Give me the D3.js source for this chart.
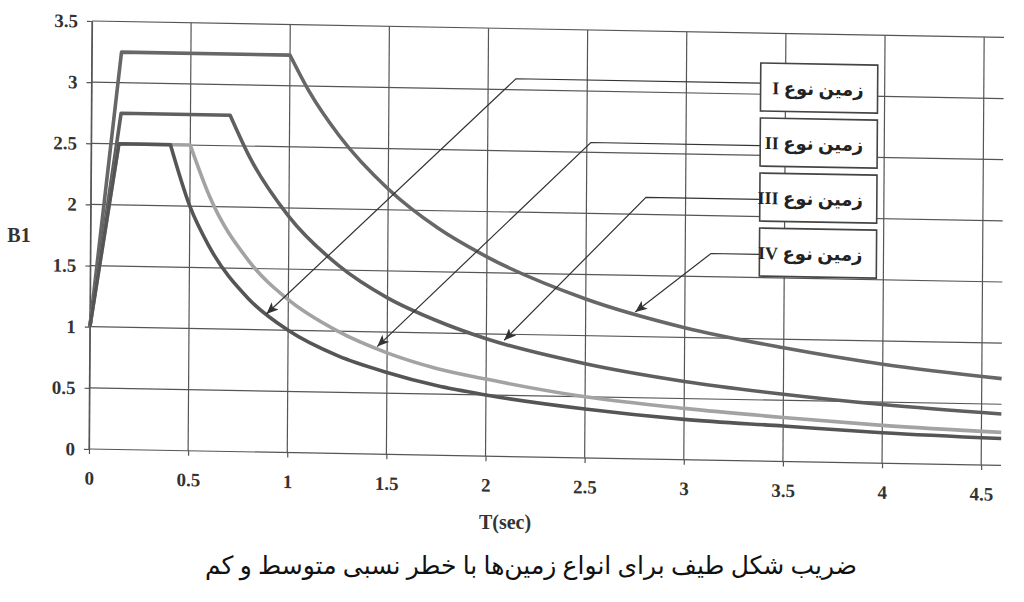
<!DOCTYPE html>
<html>
<head>
<meta charset="utf-8">
<script src="https://cdnjs.cloudflare.com/ajax/libs/d3/7.8.5/d3.min.js"></script>
<style>
  body { margin: 0; background: #fff; }
</style>
</head>
<body>
<div id="chart"></div>
<script>
// soil spectra (T in sec, B1)
const soilNames = ["زمین نوع I", "زمین نوع II", "زمین نوع III", "زمین نوع IV"]

const soil1T = [0, 0.14, 0.4, 0.5, 0.6, 0.8, 1.0, 1.25, 1.5, 1.75, 2, 2.5, 3, 3.5, 4, 4.6]
const soil1B = [1, 2.5, 2.5, 2.0, 1.67, 1.25, 1.0, 0.8, 0.67, 0.57, 0.5, 0.4, 0.33, 0.29, 0.25, 0.22]

const soil2T = [0, 0.14, 0.5, 0.6, 0.8, 1.0, 1.25, 1.5, 1.75, 2, 2.5, 3, 3.5, 4, 4.6]
const soil2B = [1, 2.5, 2.5, 2.08, 1.56, 1.25, 1.0, 0.83, 0.71, 0.63, 0.5, 0.42, 0.36, 0.31, 0.27]

const soil3T = [0, 0.15, 0.7, 0.8, 1.0, 1.25, 1.5, 1.75, 2, 2.5, 3, 3.5, 4, 4.6]
const soil3B = [1, 2.75, 2.75, 2.41, 1.93, 1.54, 1.28, 1.1, 0.96, 0.77, 0.64, 0.55, 0.48, 0.42]

const soil4T = [0, 0.15, 1.0, 1.1, 1.25, 1.5, 1.75, 2, 2.5, 3, 3.5, 4, 4.6]
const soil4B = [1, 3.25, 3.25, 2.95, 2.6, 2.17, 1.86, 1.63, 1.3, 1.08, 0.93, 0.81, 0.71]

// where each leader arrow points (tip) and where it bends (elbow)
const tipT = [0.89, 1.45, 2.09, 2.75]
const tipB = [1.13, 0.88, 0.95, 1.20]
const elbowT = [2.14, 2.52, 2.80, 3.13]
const elbowB = [3.09, 2.58, 2.14, 1.69]

const xTicks = [0, 0.5, 1, 1.5, 2, 2.5, 3, 3.5, 4, 4.5]
const yTicks = [0, 0.5, 1, 1.5, 2, 2.5, 3, 3.5]

const W = 1024, H = 602
const PW = 912, PH = 428

const svg = d3.select("#chart")
    .append("svg")
    .attr("width", W)
    .attr("height", H)

// the scanned figure is a little rotated/skewed, so the plot group is too
const g = svg.append("g")
    .attr("transform", `translate(89,449) matrix(1,0.018,-0.007,1,0,0) translate(0,${-PH})`)

const x = d3.scaleLinear().domain([0, 4.6]).range([0, PW])
const y = d3.scaleLinear().domain([0, 3.5]).range([PH, 0])

const gridColor = "#555"

// grid
g.append("g")
    .selectAll("line")
    .data(yTicks)
    .join("line")
    .attr("x1", 0)
    .attr("x2", PW)
    .attr("y1", d => y(d))
    .attr("y2", d => y(d))
    .attr("stroke", gridColor)
    .attr("stroke-width", 1.2)

g.append("g")
    .selectAll("line")
    .data(xTicks)
    .join("line")
    .attr("x1", d => x(d))
    .attr("x2", d => x(d))
    .attr("y1", y(0))
    .attr("y2", y(3.5))
    .attr("stroke", gridColor)
    .attr("stroke-width", 1.2)

const xAxis = d3.axisBottom(x).tickValues(xTicks).tickSize(5).tickSizeOuter(0).tickPadding(17).tickFormat(d => String(d))
const yAxis = d3.axisLeft(y).tickValues(yTicks).tickSize(5).tickSizeOuter(0).tickPadding(9).tickFormat(d => String(d))

const gx = g.append("g")
    .attr("transform", `translate(0, ${PH})`)
    .call(xAxis)
gx.select(".domain").remove()

const gy = g.append("g").call(yAxis)

g.selectAll(".tick line").attr("stroke", gridColor).attr("stroke-width", 1.2)
g.selectAll(".domain").attr("stroke", gridColor).attr("stroke-width", 1.2)
g.selectAll(".tick text")
    .attr("font-family", "Liberation Serif, Times New Roman, serif")
    .attr("font-weight", "bold")
    .attr("font-size", 19)
    .attr("fill", "#333")

// curves: straight rise and plateau, smooth decay after the plateau end
const straight = d3.line()
    .x(d => x(d[0]))
    .y(d => y(d[1]))

const smooth = d3.line()
    .x(d => x(d[0]))
    .y(d => y(d[1]))
    .curve(d3.curveMonotoneX)

const series = [
    {t: soil4T, b: soil4B, color: "#676767"},
    {t: soil3T, b: soil3B, color: "#5f5f5f"},
    {t: soil2T, b: soil2B, color: "#a3a3a3"},
    {t: soil1T, b: soil1B, color: "#555555"}
]

series.forEach(s => {
    const pts = s.t.map((t, i) => [t, s.b[i]])
    const knee = 2
    const d = straight(pts.slice(0, knee + 1)) + smooth(pts.slice(knee)).replace(/^M/, "L")
    g.append("path")
        .attr("d", d)
        .attr("fill", "none")
        .attr("stroke", s.color)
        .attr("stroke-width", 3.6)
        .attr("stroke-linejoin", "round")
})

// arrow marker
svg.append("defs")
    .append("marker")
    .attr("id", "arrow")
    .attr("markerUnits", "userSpaceOnUse")
    .attr("markerWidth", 14)
    .attr("markerHeight", 10)
    .attr("refX", 12)
    .attr("refY", 5)
    .attr("orient", "auto")
    .append("path")
    .attr("d", "M0,0 L12,5 L0,10 L3,5 Z")
    .attr("fill", "#333")

// legend boxes and leaders
const boxX = 669, boxW = 117, boxH = 48
const boxTop = i => 30 + i * 55

soilNames.forEach((name, i) => {
    g.append("path")
        .attr("d", `M${boxX},${y(elbowB[i])} L${x(elbowT[i])},${y(elbowB[i])} L${x(tipT[i])},${y(tipB[i])}`)
        .attr("fill", "none")
        .attr("stroke", "#333")
        .attr("stroke-width", 1.2)
        .attr("marker-end", "url(#arrow)")

    g.append("rect")
        .attr("x", boxX)
        .attr("y", boxTop(i))
        .attr("width", boxW)
        .attr("height", boxH)
        .attr("fill", "#fff")
        .attr("stroke", "#444")
        .attr("stroke-width", 1.6)

    g.append("text")
        .attr("x", boxX + boxW - 14)
        .attr("y", boxTop(i) + boxH / 2 + 7)
        .attr("direction", "rtl")
        .attr("text-anchor", "start")
        .attr("font-family", "Liberation Serif, DejaVu Sans, serif")
        .attr("font-weight", "bold")
        .attr("font-size", 18)
        .attr("fill", "#222")
        .text(name)
})

// axis titles and caption
svg.append("text")
    .attr("x", 19)
    .attr("y", 242)
    .attr("text-anchor", "middle")
    .attr("font-family", "Liberation Serif, Times New Roman, serif")
    .attr("font-weight", "bold")
    .attr("font-size", 20)
    .attr("fill", "#333")
    .text("B1")

svg.append("text")
    .attr("x", 505)
    .attr("y", 529)
    .attr("text-anchor", "middle")
    .attr("font-family", "Liberation Serif, Times New Roman, serif")
    .attr("font-weight", "bold")
    .attr("font-size", 20)
    .attr("fill", "#333")
    .text("T(sec)")

svg.append("text")
    .attr("x", 531)
    .attr("y", 574)
    .attr("direction", "rtl")
    .attr("text-anchor", "middle")
    .attr("font-family", "Liberation Serif, DejaVu Sans, serif")
    .attr("font-size", 25)
    .attr("fill", "#111")
    .text("ضریب شکل طیف برای انواع زمین‌ها با خطر نسبی متوسط و کم")
</script>
</body>
</html>
